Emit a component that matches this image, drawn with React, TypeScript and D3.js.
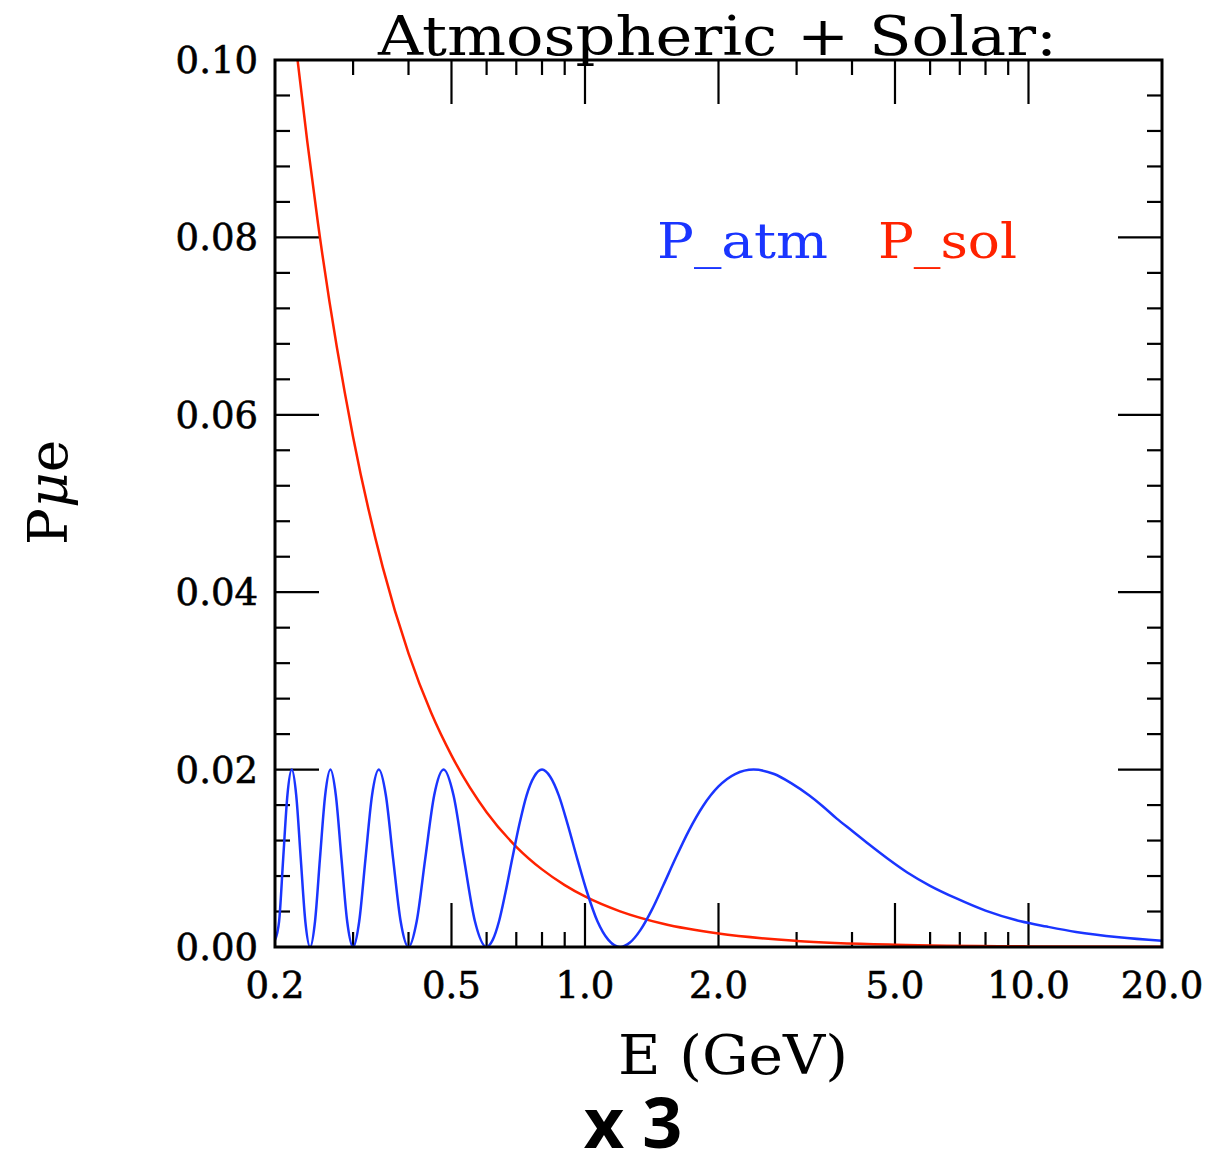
import React from "react";
import * as d3 from "d3";

// energies (GeV) and probabilities
const atmE = [
  0.2, 0.2043, 0.2087, 0.2133, 0.2182, 0.2233, 0.2286, 0.2341, 0.24,
  0.2462, 0.2526, 0.2595, 0.2667, 0.2743, 0.2824, 0.2909, 0.3,
  0.3097, 0.32, 0.331, 0.3429, 0.3556, 0.3692, 0.384, 0.4,
  0.4174, 0.4364, 0.4571, 0.48, 0.5053, 0.5333, 0.5647, 0.6,
  0.6194, 0.64, 0.6621, 0.6857, 0.7111, 0.7385, 0.768, 0.8, 0.8348, 0.8727,
  0.9143, 0.96, 1.0105, 1.0667, 1.129, 1.2,
  1.263, 1.333, 1.412, 1.5, 1.6, 1.714, 1.846, 2.0, 2.18, 2.4, 2.67, 2.91,
  3.2, 3.43, 3.69, 4.0, 4.36, 4.8, 5.33, 6.0, 6.86, 8.0, 9.6, 11, 12.8, 16, 20,
];
const atmP = [
  0.0008, 0.0029, 0.01, 0.0171, 0.02, 0.0171, 0.01, 0.0029, 0,
  0.0029, 0.01, 0.0171, 0.02, 0.0171, 0.01, 0.0029, 0,
  0.0029, 0.01, 0.0171, 0.02, 0.0171, 0.01, 0.0029, 0,
  0.0029, 0.01, 0.0171, 0.02, 0.0171, 0.01, 0.0029, 0,
  0.0008, 0.0029, 0.0062, 0.01, 0.0138, 0.0171, 0.0192, 0.02, 0.0192, 0.0171,
  0.0138, 0.01, 0.0062, 0.0029, 0.0008, 0,
  0.0005, 0.0019, 0.0041, 0.0069, 0.01, 0.0131, 0.0159, 0.0181, 0.0195, 0.02, 0.0195, 0.0185,
  0.0171, 0.0159, 0.0145, 0.0131, 0.0116, 0.01, 0.0084, 0.0069, 0.0055, 0.0041, 0.0029, 0.0023, 0.0017, 0.0011, 0.0007,
];

const solE = [0.2, 0.22, 0.25, 0.3, 0.35, 0.4, 0.45, 0.5, 0.6, 0.7, 0.8, 0.9, 1.0, 1.2, 1.5, 2.0, 3.0, 5.0, 10, 20];
const solP = [
  0.1253, 0.1043, 0.0816, 0.0575, 0.0428, 0.0331, 0.0264, 0.0216, 0.0152, 0.0113,
  0.00875, 0.00698, 0.0057, 0.00402, 0.00262, 0.00151, 0.00069, 0.00026, 0.00007, 0.00002,
];

const xMajor = [0.5, 1, 2, 5, 10];
const xMinor = [0.3, 0.4, 0.6, 0.7, 0.8, 0.9, 3, 4, 6, 7, 8, 9];
const xLabels = [0.2, 0.5, 1, 2, 5, 10, 20];
const yLabels = [0, 0.02, 0.04, 0.06, 0.08, 0.1];
const yMinor = [0.004, 0.008, 0.012, 0.016, 0.024, 0.028, 0.032, 0.036, 0.044, 0.048,
  0.052, 0.056, 0.064, 0.068, 0.072, 0.076, 0.084, 0.088, 0.092, 0.096];

const W = 1212;
const H = 1170;
const left = 275, right = 1162, top = 60, bottom = 947;

const serif = "'DejaVu Serif', serif";
const blue = "#1a35ff";
const red = "#ff2200";

export default function App() {
  const x = d3.scaleLog().domain([0.2, 20]).range([left, right]);
  const y = d3.scaleLinear().domain([0, 0.1]).range([bottom, top]);

  const line = d3
    .line<number>()
    .x((d) => d[0])
    .y((d) => d[1])
    .curve(d3.curveMonotoneX);

  const atmPath = line(atmE.map((e, i) => [x(e), y(atmP[i])]) as any);
  const solPath = line(solE.map((e, i) => [x(e), y(solP[i])]) as any);

  const majLen = 44;
  const minLen = 15;

  return (
    <svg width={W} height={H} style={{ position: "absolute", left: 0, top: 0, background: "#fff" }}>
      <defs>
        <clipPath id="plot">
          <rect x={left} y={top} width={right - left} height={bottom - top} />
        </clipPath>
      </defs>

      {/* ticks */}
      <g stroke="#000" strokeWidth={2.2}>
        {xMajor.map((v) => (
          <g key={"xM" + v}>
            <line x1={x(v)} x2={x(v)} y1={bottom} y2={bottom - majLen} />
            <line x1={x(v)} x2={x(v)} y1={top} y2={top + majLen} />
          </g>
        ))}
        {xMinor.map((v) => (
          <g key={"xm" + v}>
            <line x1={x(v)} x2={x(v)} y1={bottom} y2={bottom - minLen} />
            <line x1={x(v)} x2={x(v)} y1={top} y2={top + minLen} />
          </g>
        ))}
        {yLabels.map((v) => (
          <g key={"yM" + v}>
            <line x1={left} x2={left + majLen} y1={y(v)} y2={y(v)} />
            <line x1={right} x2={right - majLen} y1={y(v)} y2={y(v)} />
          </g>
        ))}
        {yMinor.map((v) => (
          <g key={"ym" + v}>
            <line x1={left} x2={left + minLen} y1={y(v)} y2={y(v)} />
            <line x1={right} x2={right - minLen} y1={y(v)} y2={y(v)} />
          </g>
        ))}
      </g>

      <g clipPath="url(#plot)" fill="none" strokeWidth={2.5}>
        <path d={solPath!} stroke={red} />
        <path d={atmPath!} stroke={blue} />
      </g>

      <rect x={left} y={top} width={right - left} height={bottom - top} fill="none" stroke="#000" strokeWidth={3} />

      {/* tick labels */}
      <g fontFamily={serif} fontSize={37} fill="#000" stroke="#000" strokeWidth={0.6}>
        {yLabels.map((v) => (
          <text key={"yl" + v} x={258} y={y(v) + 13} textAnchor="end">
            {v.toFixed(2)}
          </text>
        ))}
        {xLabels.map((v) => (
          <text key={"xl" + v} x={x(v)} y={998} textAnchor="middle">
            {v.toFixed(1)}
          </text>
        ))}
      </g>

      <text x={378} y={55} fontFamily={serif} fontSize={55} textLength={679} lengthAdjust="spacingAndGlyphs">
        Atmospheric + Solar:
      </text>

      <text x={657} y={258} fontFamily={serif} fontSize={49} fill={blue} textLength={171} lengthAdjust="spacingAndGlyphs">
        P_atm
      </text>
      <text x={878} y={258} fontFamily={serif} fontSize={49} fill={red} textLength={139} lengthAdjust="spacingAndGlyphs">
        P_sol
      </text>

      <text x={618} y={1074} fontFamily={serif} fontSize={55} textLength={230} lengthAdjust="spacingAndGlyphs">
        E (GeV)
      </text>

      <text transform="translate(67,545) rotate(-90)" fontFamily={serif} fontSize={55}>
        P<tspan fontStyle="italic">μ</tspan>e
      </text>

      <text x={633} y={1148} textAnchor="middle" fontFamily="'Open Sans', sans-serif" fontWeight="bold" fontSize={70}>
        x 3
      </text>
    </svg>
  );
}
